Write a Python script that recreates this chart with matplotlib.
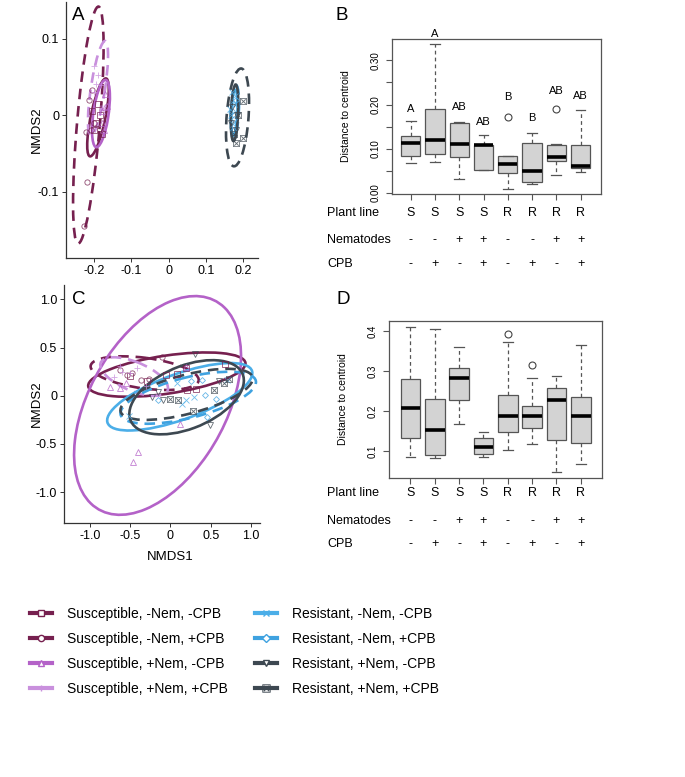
import numpy as np
import matplotlib
matplotlib.use("Agg")
import matplotlib.pyplot as plt
from matplotlib.patches import Ellipse
from matplotlib.lines import Line2D
from matplotlib.transforms import blended_transform_factory

plt.rcParams['font.family'] = ['Liberation Sans', 'DejaVu Sans']

# ---- groups --------------------------------------------------------------
group_names = ["Susceptible, -Nem, -CPB", "Susceptible, -Nem, +CPB",
               "Susceptible, +Nem, -CPB", "Susceptible, +Nem, +CPB",
               "Resistant, -Nem, -CPB", "Resistant, -Nem, +CPB",
               "Resistant, +Nem, -CPB", "Resistant, +Nem, +CPB"]
group_colors = ["#76204F", "#76204F", "#B462C8", "#C990DD",
                "#4BAEE8", "#3FA2E0", "#3D4851", "#3D4851"]
group_markers = ["s", "o", "^", "+", "x", "D", "v", r"$\boxtimes$"]
group_dashed = [False, True, False, True, False, True, False, True]

# ---- panel A: NMDS points (x, y per group) -------------------------------
a_x = [[-0.195, -0.2, -0.185, -0.19, -0.18, -0.205],
       [-0.219, -0.227, -0.207, -0.21, -0.215, -0.2, -0.222],
       [-0.17, -0.172, -0.178, -0.165, -0.18, -0.175],
       [-0.2, -0.19, -0.195, -0.2, -0.182],
       [0.17, 0.175, 0.168, 0.172, 0.178, 0.166],
       [0.172, 0.176, 0.17, 0.18, 0.174],
       [0.18, 0.17, 0.176, 0.183, 0.168],
       [0.2, 0.2, 0.182, 0.186, 0.176]]
a_y = [[-0.01, -0.02, 0.0, 0.015, -0.025, 0.005],
       [-0.087, -0.145, 0.033, -0.02, 0.02, -0.01, -0.022],
       [0.027, 0.01, 0.005, 0.012, -0.01, -0.02],
       [0.064, 0.052, 0.041, 0.03, 0.04],
       [0.03, 0.015, 0.0, -0.012, 0.025, 0.008],
       [0.015, -0.005, 0.005, 0.02, -0.02],
       [-0.02, 0.01, -0.03, 0.0, -0.01],
       [0.018, -0.03, -0.036, 0.0, -0.025]]
# ellipses: centre x, centre y, sd x, sd y, correlation
a_ell_cx = [-0.19, -0.216, -0.182, -0.19, 0.176, 0.178, 0.177, 0.185]
a_ell_cy = [-0.003, -0.013, 0.002, 0.035, 0.003, 0.005, 0.003, -0.003]
a_ell_sx = [0.029, 0.041, 0.024, 0.027, 0.009, 0.011, 0.010, 0.031]
a_ell_sy = [0.051, 0.155, 0.044, 0.062, 0.030, 0.034, 0.037, 0.064]
a_ell_r = [0.72, 0.66, 0.5, 0.7, 0.3, 0.3, 0.3, 0.3]

# ---- panel C ---------------------------------------------------------------
c_x = [[-0.5, -0.29, -0.06, 0.08, 0.19, 0.67, 0.21, 0.32],
       [-0.62, -0.54, -0.37, -0.26, -0.1, -0.48],
       [-0.40, -0.47, -0.55, -0.63, 0.12, 0.19, -0.75],
       [-0.62, -0.6, -0.5, -0.42, -0.7, -0.3],
       [0.08, 0.14, 0.19, 0.7, -0.52, 0.29],
       [0.25, 0.39, 0.43, 0.56, -0.15, 0.45],
       [-0.16, -0.09, 0.31, 0.6, 0.49, -0.23],
       [0.0, 0.09, 0.28, 0.54, 0.72, 0.66]]
c_y = [[0.21, 0.15, 0.22, 0.23, 0.29, 0.33, 0.06, 0.07],
       [0.27, 0.22, 0.16, 0.17, 0.4, 0.24],
       [-0.58, -0.69, 0.13, 0.08, -0.29, 0.3, 0.09],
       [0.31, 0.25, 0.24, 0.29, 0.2, 0.1],
       [0.13, -0.08, -0.04, 0.16, -0.21, -0.01],
       [0.15, 0.16, 0.01, -0.03, -0.04, -0.22],
       [0.04, -0.04, 0.43, 0.15, -0.30, -0.01],
       [-0.03, -0.04, -0.16, 0.06, 0.17, 0.13]]
c_ell_cx = [-0.045, -0.32, -0.16, -0.45, 0.115, 0.22, 0.2, 0.2]
c_ell_cy = [0.22, 0.235, -0.1, 0.2, -0.01, -0.02, -0.015, 0.015]
c_ell_sx = [0.975, 0.67, 1.035, 0.42, 0.9, 0.84, 0.71, 0.82]
c_ell_sy = [0.23, 0.175, 1.135, 0.2, 0.35, 0.27, 0.385, 0.265]
c_ell_r = [0.5, -0.4, 0.45, -0.6, 0.7, 0.6, 0.45, 0.62]

# ---- panels B and D: distance to centroid ---------------------------------
plant_line = ["S", "S", "S", "S", "R", "R", "R", "R"]
nematodes = ["-", "-", "+", "+", "-", "-", "+", "+"]
cpb = ["-", "+", "-", "+", "-", "+", "-", "+"]

b_q1 = [0.083, 0.089, 0.081, 0.053, 0.046, 0.025, 0.072, 0.056]
b_med = [0.113, 0.121, 0.111, 0.108, 0.065, 0.050, 0.082, 0.061]
b_q3 = [0.129, 0.189, 0.158, 0.108, 0.083, 0.114, 0.109, 0.109]
b_lo = [0.068, 0.070, 0.032, 0.053, 0.009, 0.021, 0.041, 0.048]
b_hi = [0.163, 0.336, 0.161, 0.132, 0.084, 0.136, 0.111, 0.187]
b_out = [[], [], [], [], [0.172], [], [0.19], []]
b_letters = ["A", "A", "AB", "AB", "B", "B", "AB", "AB"]
b_letter_y = [0.191, 0.36, 0.195, 0.161, 0.217, 0.169, 0.231, 0.22]

d_q1 = [0.132, 0.091, 0.229, 0.094, 0.147, 0.158, 0.128, 0.120]
d_med = [0.209, 0.154, 0.284, 0.111, 0.189, 0.188, 0.229, 0.187]
d_q3 = [0.280, 0.230, 0.3075, 0.1325, 0.242, 0.213, 0.2575, 0.237]
d_lo = [0.085, 0.083, 0.167, 0.086, 0.104, 0.1175, 0.0475, 0.068]
d_hi = [0.411, 0.407, 0.360, 0.147, 0.373, 0.284, 0.2875, 0.365]
d_out = [[], [], [], [], [0.393], [0.316], [], []]

W, H = 685, 777
fig = plt.figure(figsize=(W / 100, H / 100), dpi=100)


def px_axes(left, top, right, bottom):
    return fig.add_axes([left / W, 1 - bottom / H, (right - left) / W, (bottom - top) / H])


def ellipse(ax, cx, cy, sx, sy, r, color, dashed):
    cov = np.array([[sx * sx, r * sx * sy], [r * sx * sy, sy * sy]])
    vals, vecs = np.linalg.eigh(cov)
    ang = np.degrees(np.arctan2(vecs[1, 1], vecs[0, 1]))
    ls = (0, (4, 2.6)) if dashed else "-"
    e = Ellipse((cx, cy), 2 * np.sqrt(vals[1]), 2 * np.sqrt(vals[0]), angle=ang,
                fill=False, edgecolor=color, lw=1.9, linestyle=ls)
    ax.add_patch(e)


def nmds_panel(ax, xs, ys, ecx, ecy, esx, esy, er):
    for i in range(8):
        m = group_markers[i]
        c = group_colors[i]
        if m.startswith("$"):
            ax.plot(xs[i], ys[i], ls="none", marker=m, ms=5, mfc=c, mec=c, mew=0, alpha=0.8)
        else:
            ax.plot(xs[i], ys[i], ls="none", marker=m, ms=3.8 if m != "D" else 3,
                    mfc="none", mec=c, mew=0.6, color=c, alpha=0.8)
    for i in range(8):
        ellipse(ax, ecx[i], ecy[i], esx[i], esy[i], er[i], group_colors[i], group_dashed[i])
    for s in ["top", "right"]:
        ax.spines[s].set_visible(False)
    for s in ["left", "bottom"]:
        ax.spines[s].set_color("#333333")
        ax.spines[s].set_linewidth(0.9)
    ax.tick_params(length=3, width=0.7, color="#333333", labelsize=9, pad=2)


# panel A
axA = px_axes(66, 2, 258, 258)
nmds_panel(axA, a_x, a_y, a_ell_cx, a_ell_cy, a_ell_sx, a_ell_sy, a_ell_r)
axA.set_xlim(-0.276, 0.24)
axA.set_ylim(-0.187, 0.148)
axA.set_xticks([-0.2, -0.1, 0, 0.1, 0.2])
axA.set_xticklabels(["-0.2", "-0.1", "0", "0.1", "0.2"])
axA.set_yticks([-0.1, 0, 0.1])
axA.set_yticklabels(["-0.1", "0", "0.1"])
axA.set_ylabel("NMDS2", fontsize=9.5)
axA.yaxis.set_label_coords(-0.122, 0.5)

# panel C
axC = px_axes(64, 285, 260, 523)
nmds_panel(axC, c_x, c_y, c_ell_cx, c_ell_cy, c_ell_sx, c_ell_sy, c_ell_r)
axC.set_xlim(-1.32, 1.11)
axC.set_ylim(-1.32, 1.15)
axC.set_xticks([-1.0, -0.5, 0, 0.5, 1.0])
axC.set_xticklabels(["-1.0", "-0.5", "0", "0.5", "1.0"])
axC.set_yticks([-1.0, -0.5, 0, 0.5, 1.0])
axC.set_yticklabels(["-1.0", "-0.5", "0", "0.5", "1.0"])
axC.set_ylabel("NMDS2", fontsize=9.5)
axC.yaxis.set_label_coords(-0.11, 0.5)
axC.set_xlabel("NMDS1", fontsize=9.5)
axC.xaxis.set_label_coords(0.54, -0.118)


def box_panel(ax, q1, med, q3, lo, hi, out, row_y):
    stats = []
    for i in range(8):
        stats.append(dict(q1=q1[i], med=med[i], q3=q3[i], whislo=lo[i],
                          whishi=hi[i], fliers=out[i]))
    pos = np.arange(1, 9)
    ax.bxp(stats, positions=pos, widths=0.8, capwidths=0.4, patch_artist=True,
           boxprops=dict(facecolor="#D3D3D3", edgecolor="#555555", lw=0.9),
           medianprops=dict(color="black", lw=2.6, solid_capstyle="butt"),
           whiskerprops=dict(color="#555555", lw=0.9, linestyle=(0, (3, 2.5))),
           capprops=dict(color="#555555", lw=0.9),
           flierprops=dict(marker="o", ms=5, mfc="none", mec="#444444", mew=0.8))
    for s in ax.spines.values():
        s.set_color("#555555")
        s.set_linewidth(0.9)
    ax.set_xticks(pos)
    ax.set_xticklabels([])
    ax.tick_params(axis="x", length=4, width=0.8, color="#555555")
    ax.tick_params(axis="y", length=4, width=0.8, color="#555555", labelsize=7,
                   pad=4, labelrotation=90)
    for lbl in ax.get_yticklabels():
        lbl.set_va("center")
    ax.set_ylabel("Distance to centroid", fontsize=7.5)
    tr = blended_transform_factory(ax.transData, fig.transFigure)
    rows = [("Plant line", plant_line), ("Nematodes", nematodes), ("CPB", cpb)]
    for (name, vals), y in zip(rows, row_y):
        fig.text(327 / W, 1 - y / H, name, ha="left", va="center", fontsize=9)
        for p, v in zip(pos, vals):
            ax.text(p, 1 - y / H, v, transform=tr, ha="center", va="center", fontsize=9)


# panel B
axB = px_axes(392, 39, 601, 194)
box_panel(axB, b_q1, b_med, b_q3, b_lo, b_hi, b_out, [213, 240, 264])
axB.set_xlim(0.23, 8.84)
axB.set_ylim(-0.002, 0.348)
axB.set_yticks([0, 0.05, 0.10, 0.15, 0.20, 0.25, 0.30])
axB.set_yticklabels(["0.00", "", "0.10", "", "0.20", "", "0.30"])
axB.yaxis.set_label_coords(-0.196, 0.5)
for p, t, y in zip(range(1, 9), b_letters, b_letter_y):
    axB.text(p, y, t, ha="center", va="center", fontsize=8, clip_on=False)

# panel D
axD = px_axes(389, 321, 602, 478)
box_panel(axD, d_q1, d_med, d_q3, d_lo, d_hi, d_out, [493, 521, 544])
axD.set_xlim(0.12, 8.87)
axD.set_ylim(0.033, 0.426)
axD.set_yticks([0.1, 0.2, 0.3, 0.4])
axD.set_yticklabels(["0.1", "0.2", "0.3", "0.4"])
axD.yaxis.set_label_coords(-0.192, 0.5)

# panel letters
for lx, ly, t in [(78, 15, "A"), (342, 15, "B"), (79, 299, "C"), (343, 299, "D")]:
    fig.text(lx / W, 1 - ly / H, t, ha="center", va="center", fontsize=13.5)

# legend
handles = []
for i in range(8):
    m = group_markers[i]
    c = group_colors[i]
    if m.startswith("$"):
        h = Line2D([], [], color=c, lw=3, marker=m, ms=6, mfc=c, mec=c, mew=0)
    else:
        h = Line2D([], [], color=c, lw=3, marker=m, ms=4.5, mfc="white", mec=c, mew=1)
    handles.append(h)
fig.legend(handles, group_names, loc="upper left", bbox_to_anchor=(30 / W, 1 - 607 / H),
           ncol=2, frameon=False, fontsize=10, handlelength=1.6, handletextpad=1.05,
           columnspacing=1.95, labelspacing=0.8, borderpad=0, borderaxespad=0)

fig.savefig("out.png", dpi=100, facecolor="white")
